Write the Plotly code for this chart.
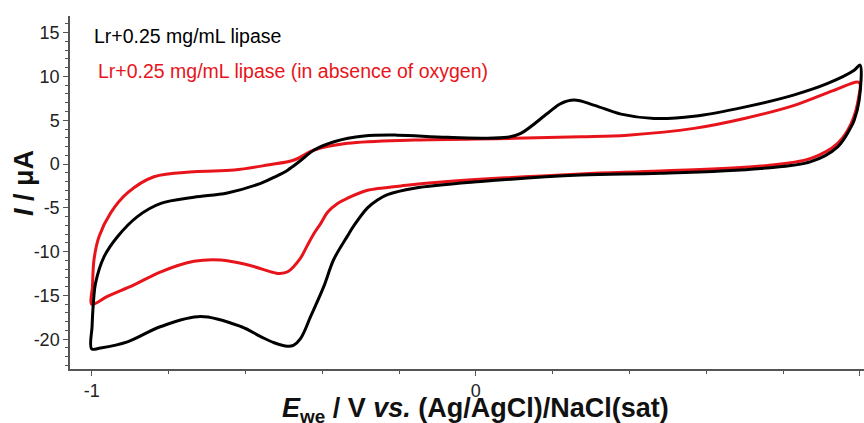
import plotly.graph_objects as go

# Black curve: Lr + 0.25 mg/mL lipase
black_E = [-1.0, -0.999, -0.995, -0.99, -0.968, -0.933, -0.881, -0.82, -0.734, -0.647, -0.56, -0.52, -0.49, -0.456,
           -0.421, -0.369, -0.291, -0.204, -0.074, 0.082, 0.117, 0.187, 0.221, 0.256, 0.309, 0.378, 0.464,
           0.568, 0.699, 0.829, 0.916, 0.985, 1.0,
           0.998, 0.985, 0.977, 0.942, 0.872, 0.742, 0.48, 0.273, 0.013, -0.16, -0.23, -0.256, -0.282,
           -0.317, -0.334, -0.37, -0.396, -0.43, -0.456, -0.475, -0.49, -0.525, -0.56, -0.612, -0.716, -0.82, -0.907,
           -0.977, -1.0]
black_I = [-21.1, -18.5, -15.5, -13.6, -10.6, -8.3, -6.0, -4.5, -3.8, -3.3, -2.2, -1.4, -0.7, 0.4,
           1.6, 2.55, 3.2, 3.3, 3.05, 3.05, 3.5, 5.8, 6.9, 7.3, 6.7, 5.7, 5.2,
           5.45, 6.5, 7.9, 9.2, 10.7, 11.3,
           7.3, 5.0, 4.25, 1.97, 0.27, -0.5, -1.06, -1.25, -2.0, -2.77, -3.5, -4.1, -5.0,
           -7.0, -8.2, -10.9, -14.0, -17.4, -19.9, -20.7, -20.8, -20.4, -19.7, -18.55, -17.4, -18.55, -20.3,
           -21.0, -21.1]

# Red curve: Lr + 0.25 mg/mL lipase (in absence of oxygen)
red_E = [-1.0, -0.998, -0.994, -0.981, -0.951, -0.907, -0.838, -0.734, -0.629, -0.542, -0.473, -0.421,
         -0.334, -0.16, 0.1, 0.273, 0.395, 0.568, 0.699, 0.829, 0.932, 0.998,
         0.997, 0.977, 0.942, 0.872, 0.742, 0.48, 0.273, -0.074, -0.195, -0.256, -0.282, -0.334, -0.36,
         -0.386, -0.404, -0.421, -0.44, -0.456, -0.49, -0.51, -0.525, -0.595, -0.664, -0.734, -0.82,
         -0.89, -0.959, -1.0]
red_I = [-16.0, -14.0, -10.9, -8.3, -5.6, -3.3, -1.45, -0.88, -0.68, -0.11, 0.46, 1.6,
         2.36, 2.74, 2.93, 3.11, 3.3, 4.07, 5.2, 6.7, 8.4, 9.3,
         7.7, 4.6, 2.36, 0.65, -0.23, -0.8, -1.14, -2.0, -2.5, -2.8, -3.0, -3.9, -4.5,
         -5.5, -6.8, -7.9, -9.4, -10.7, -12.3, -12.5, -12.4, -11.5, -10.95, -11.1, -12.3,
         -13.8, -15.1, -16.0]

series_names = ["Lr+0.25 mg/mL lipase", "Lr+0.25 mg/mL lipase (in absence of oxygen)"]
series_colors = ["#000000", "#e8141b"]

x_ticks = [-1, 0, 1]
x_ticktext = ["-1", "0", "1"]
y_ticks = [-20, -15, -10, -5, 0, 5, 10, 15]
y_ticktext = ["-20", "-15", "-10", "-5", "0", "5", "10", "15"]

W, H = 864, 423
L, R, T, B = 70, 0, 16, 54
pw, ph = W - L - R, H - T - B


def px(xp):
    return (xp - L) / pw


def py(yp):
    return 1 - (yp - T) / ph


FONT = "Liberation Sans, Arial"

fig = go.Figure()
fig.add_trace(go.Scatter(x=red_E, y=red_I, mode="lines", name=series_names[1],
                         line=dict(color=series_colors[1], width=3, shape="spline", smoothing=1.0)))
fig.add_trace(go.Scatter(x=black_E, y=black_I, mode="lines", name=series_names[0],
                         line=dict(color=series_colors[0], width=3, shape="spline", smoothing=1.0)))

fig.add_annotation(x=px(92), y=py(36), xref="paper", yref="paper", text=series_names[0], showarrow=False,
                   font=dict(family=FONT, size=19.5, color=series_colors[0]),
                   xanchor="left", yanchor="middle")
fig.add_annotation(x=px(96), y=py(71), xref="paper", yref="paper", text=series_names[1], showarrow=False,
                   font=dict(family=FONT, size=19.5, color=series_colors[1]),
                   xanchor="left", yanchor="middle")

# axis titles
fig.add_annotation(x=px(475), y=py(410), xref="paper", yref="paper",
                   text="<b><i>E</i><sub>we</sub> / V <i>vs.</i> (Ag/AgCl)/NaCl(sat)</b>", showarrow=False,
                   font=dict(family=FONT, size=27, color="#111"), xanchor="center", yanchor="middle")
fig.add_annotation(x=px(24), y=py(183), xref="paper", yref="paper",
                   text="<b><i>I</i> / μA</b>", showarrow=False, textangle=-90,
                   font=dict(family=FONT, size=27, color="#111"), xanchor="center", yanchor="middle")

fig.update_layout(
    width=W, height=H,
    margin=dict(l=L, r=R, t=T, b=B),
    paper_bgcolor="white", plot_bgcolor="white",
    showlegend=False,
    font=dict(family=FONT, size=18, color="#222"),
    xaxis=dict(range=[-1.0565, 1.0105], tickvals=x_ticks, ticktext=x_ticktext, ticks="outside", ticklen=5,
               tickcolor="#555", showline=True, linecolor="#555", linewidth=1.5,
               showgrid=False, zeroline=False,
               minor=dict(dtick=0.2, tick0=0, ticks="outside", ticklen=3, tickcolor="#555")),
    yaxis=dict(range=[-23.4, 16.9], tickvals=y_ticks, ticktext=y_ticktext, ticks="outside", ticklen=5,
               tickcolor="#555", showline=True, linecolor="#555", linewidth=1.5,
               showgrid=False, zeroline=False,
               minor=dict(dtick=1, tick0=0, ticks="outside", ticklen=3, tickcolor="#555")),
)

fig.write_html("out.html")
